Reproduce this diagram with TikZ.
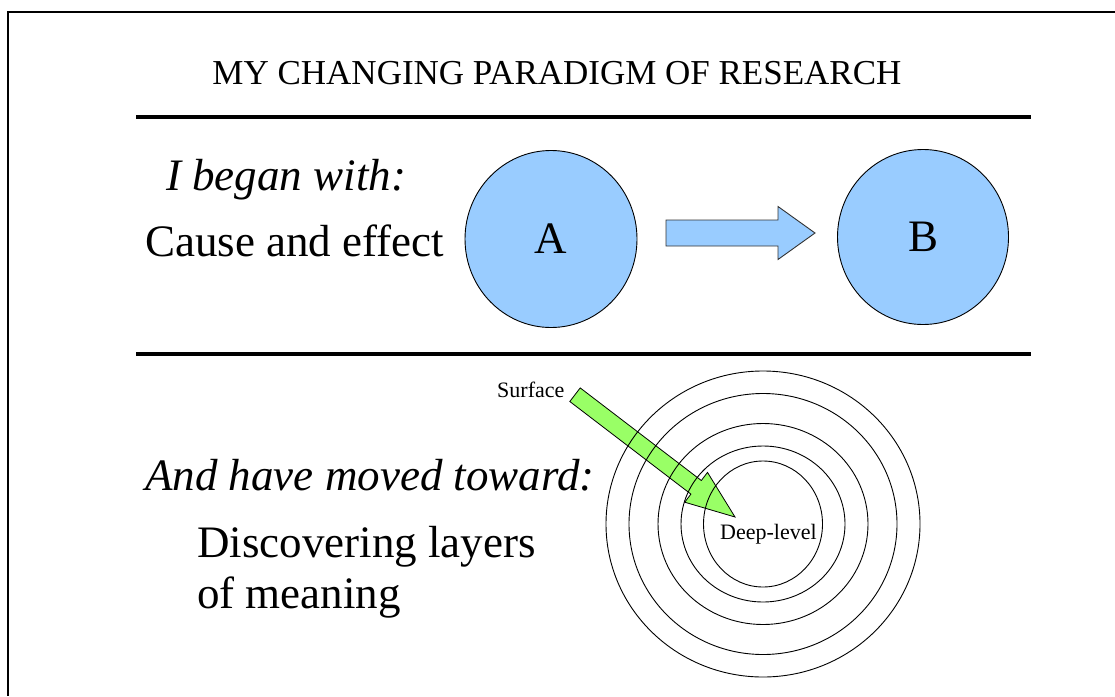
\documentclass[tikz,border=0pt]{standalone}
\usepackage{fontspec}
\setmainfont{Liberation Serif}
\usetikzlibrary{shapes.geometric}

\definecolor{lightblue}{HTML}{99CCFF}
\definecolor{lightgreen}{HTML}{99FF66}
\definecolor{edgegray}{HTML}{333333}

\tikzset{
  frameline/.style={line width=2.2pt, black},
  rule/.style={line width=4pt, black},
  bigtext/.style={inner sep=0pt, anchor=base west, font=\fontsize{45}{52}\selectfont},
  bigital/.style={bigtext, font=\fontsize{45}{52}\selectfont\itshape},
  smalltext/.style={inner sep=0pt, anchor=base west, font=\fontsize{22}{26}\selectfont},
  ball/.style={ellipse, draw=black, line width=0.9pt, fill=lightblue, inner sep=0pt,
               font=\fontsize{45}{52}\selectfont},
  blockarrow/.style={draw=edgegray, line width=0.9pt, fill=lightblue, line join=miter},
  deeparrow/.style={draw=black, line width=0.8pt, fill=lightgreen, line join=miter},
  ring/.style={ellipse, draw=black, line width=0.9pt, inner sep=0pt},
}

\begin{document}
\begin{tikzpicture}[x=1pt, y=-1pt]
  \useasboundingbox (0,0) rectangle (1115,696);
  \fill[white] (0,0) rectangle (1115,696);

  % page frame (top and left edges)
  \coordinate (fo) at (8,12);
  \coordinate (fr) at (1115,12);
  \coordinate (fb) at (8,696);
  \draw[frameline] (fr) -- (fo) -- (fb);

  % title and separating rules
  \node[inner sep=0pt, anchor=base, font=\fontsize{35}{40}\selectfont] (title) at (557,84)
    {MY CHANGING PARADIGM OF RESEARCH};
  \coordinate (r1a) at (136,117);
  \coordinate (r1b) at (1031,117);
  \coordinate (r2a) at (136,354);
  \coordinate (r2b) at (1031,354);
  \draw[rule] (r1a) -- (r1b);
  \draw[rule] (r2a) -- (r2b);

  % upper panel: cause and effect
  \node[bigital] (began) at (166,190) {I began with:};
  \node[bigtext] (cause) at (145,256) {Cause and effect};
  \node[ball, minimum width=172pt, minimum height=177pt] (A) at (551,239) {A};
  \node[ball, minimum width=171pt, minimum height=175pt] (B) at (923,237) {B};
  \draw[blockarrow] (666,220) -- (778,220) -- (778,206.5) -- (815,233)
                    -- (778,259.5) -- (778,246) -- (666,246) -- cycle;

  % lower panel: layers of meaning
  \node[bigital] (moved) at (145,490) {And have moved toward:};
  \node[bigtext] (disc) at (197,557) {Discovering layers};
  \node[bigtext] (mean) at (197,608) {of meaning};

  \coordinate (core) at (763,524);
  \draw[deeparrow] (569.8,401.5) -- (580.2,387.9) -- (701.3,480.5) -- (707.5,472.4)
                   -- (735,517) -- (684.7,502.2) -- (690.9,494.1) -- cycle;
  \node[ring, minimum width=314pt, minimum height=306pt] (ring5) at (core) {};
  \node[ring, minimum width=268pt, minimum height=261pt] (ring4) at (core) {};
  \node[ring, minimum width=210pt, minimum height=201pt] (ring3) at (core) {};
  \node[ring, minimum width=164pt, minimum height=156pt] (ring2) at (core) {};
  \node[ring, minimum width=119pt, minimum height=126pt] (ring1) at (core) {};

  \node[smalltext] (surface) at (497,397) {Surface};
  \node[smalltext] (deep) at (720,539) {Deep-level};
\end{tikzpicture}
\end{document}
